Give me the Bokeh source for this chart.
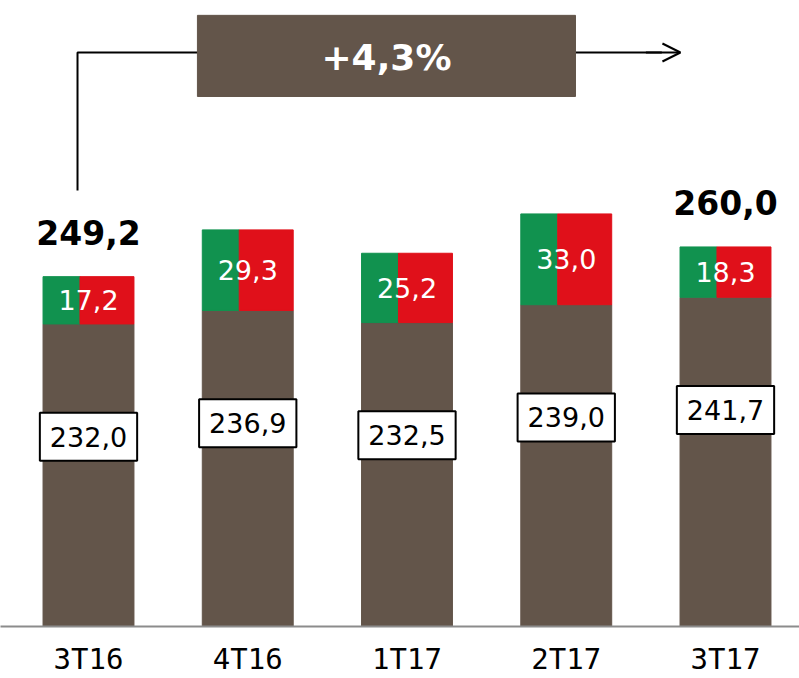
from bokeh.plotting import figure
from bokeh.models import Range1d, FixedTicker, Label, Arrow, OpenHead
from bokeh.embed import file_html
from bokeh.resources import INLINE

categories = ["3T16", "4T16", "1T17", "2T17", "3T17"]
base_values = [232.0, 236.9, 232.5, 239.0, 241.7]
top_values = [17.2, 29.3, 25.2, 33.0, 18.3]

BROWN = "#63554a"
GREEN = "#11924f"
RED = "#e0101a"

def fmt(v):
    return f"{v:.1f}".replace(".", ",")

xs = list(range(len(categories)))
totals = [b + t for b, t in zip(base_values, top_values)]
growth = (totals[-1] / totals[0] - 1) * 100

Y0 = 122
p = figure(width=799, height=678, x_range=Range1d(-0.5526, 4.4647), y_range=Range1d(Y0, 349.6),
           output_backend="svg", toolbar_location=None, min_border=0)
p.yaxis.visible = False
p.grid.visible = False
p.outline_line_color = None
p.background_fill_color = "white"

ax = p.xaxis[0]
ax.ticker = FixedTicker(ticks=xs)
ax.major_label_overrides = {i: c for i, c in enumerate(categories)}
ax.axis_line_color = "#8c8c8c"
ax.axis_line_width = 2
ax.major_tick_line_color = None
ax.minor_tick_line_color = None
ax.major_label_text_font = "DejaVu Sans Mono"
ax.major_label_text_font_size = "29px"
ax.major_label_text_color = "black"
ax.major_label_text_line_height = 1.0
ax.major_label_standoff = 9

W = 0.571
GW = 0.232
p.vbar(x=xs, top=base_values, bottom=0, width=W, color=BROWN)
lefts = [x - W / 2 for x in xs]
mids = [x - W / 2 + GW for x in xs]
rights = [x + W / 2 for x in xs]
p.quad(left=lefts, right=mids, bottom=base_values, top=totals, color=GREEN)
p.quad(left=mids, right=rights, bottom=base_values, top=totals, color=RED)

for x, b, t in zip(xs, base_values, top_values):
    p.add_layout(Label(x=x, y=b - 41, text=fmt(b), text_align="center", text_baseline="middle",
                       text_font="DejaVu Sans", text_font_size="27px", text_color="black",
                       background_fill_color="white", border_line_color="black",
                       border_line_width=2, padding=(10, 14)))
    p.add_layout(Label(x=x, y=b + t / 2, text=fmt(t), text_align="center", text_baseline="middle",
                       text_font="DejaVu Sans", text_font_size="27px", text_color="white"))

for i in (0, len(xs) - 1):
    p.add_layout(Label(x=xs[i], y=totals[i], y_offset=44, text=fmt(totals[i]), text_align="center",
                       text_baseline="alphabetic", text_font="DejaVu Sans", text_font_style="bold",
                       text_font_size="33px", text_color="black"))

# growth annotation
AX0 = -0.069
AX1 = 3.717
AY = 330.7
p.line(x=[AX0, AX0, 3.6], y=[280.5, AY, AY], line_color="black", line_width=2)
p.add_layout(Arrow(end=OpenHead(size=18, line_width=2, line_color="black"),
                   x_start=3.5, y_start=AY, x_end=AX1, y_end=AY, line_width=2, line_color="black"))
p.quad(left=[0.684], right=[3.058], bottom=[314.7], top=[344.2], color=BROWN)
p.add_layout(Label(x=(0.684 + 3.058) / 2, y=328.9, text=f"+{growth:.1f}%".replace(".", ","),
                   text_align="center", text_baseline="middle", text_font="DejaVu Sans",
                   text_font_style="bold", text_font_size="36px", text_color="white"))

open("out.html", "w").write(file_html(p, INLINE))
